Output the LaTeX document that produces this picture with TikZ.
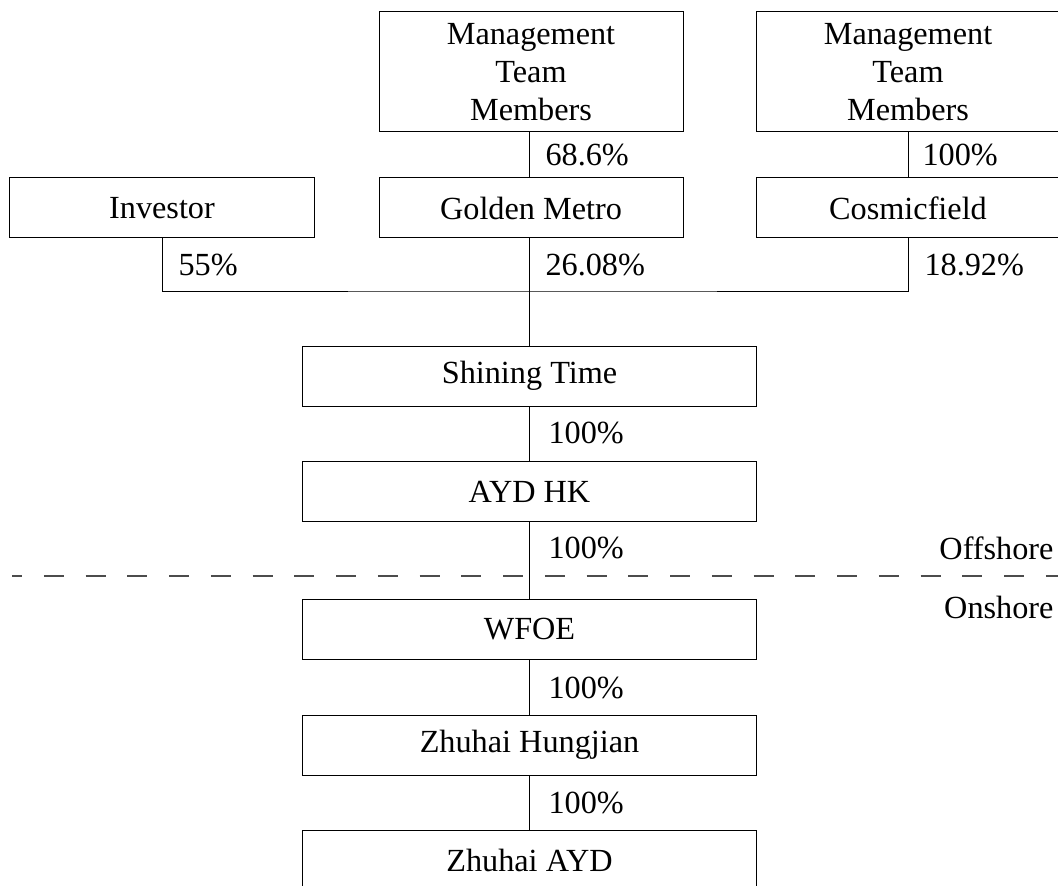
\documentclass[tikz,border=0pt]{standalone}
\usepackage{fontspec}
\setmainfont{Liberation Serif}
\begin{document}
\begin{tikzpicture}[x=0.4pt, y=-0.4pt,
  every node/.style={align=center, font=\fontsize{12.9}{15.2}\selectfont},
  orgbox/.style={draw, line width=0.4pt, minimum width=121.6pt, minimum height=24pt, inner sep=0pt},
  widebox/.style={orgbox, minimum width=181.6pt},
  pct/.style={anchor=west, inner sep=0pt}]
  \useasboundingbox (0,0) rectangle (1058,885);

  % owners
  \node[orgbox, minimum height=48pt] (mgmtA) at (531, 71.7) {Management\\Team\\Members};
  \node[orgbox, minimum height=48pt] (mgmtB) at (908, 71.7) {Management\\Team\\Members};
  \node[orgbox] (investor) at (162, 208) {Investor};
  \node[orgbox] (golden) at (531, 208) {Golden Metro};
  \node[orgbox] (cosmic) at (908, 208) {Cosmicfield};

  % group chain
  \node[widebox] (shining) at (529.5, 376) {Shining Time};
  \node[widebox] (aydhk) at (529.5, 491.5) {AYD HK};
  \node[widebox] (wfoe) at (529.5, 629) {WFOE};
  \node[widebox] (hungjian) at (529.5, 745) {Zhuhai Hungjian};
  \node[widebox] (zhayd) at (529.5, 860) {Zhuhai AYD};

  % offshore / onshore split
  \coordinate (splitL) at (12, 576);
  \coordinate (splitR) at (1058, 576);
  \draw[dashed, dash pattern=on 8pt off 8.7pt, dash phase=4pt, line width=0.8pt, black!70] (splitL) -- (splitR);
  \node[anchor=east, inner sep=0pt] (offshore) at (1054, 548) {Offshore};
  \node[anchor=east, inner sep=0pt] (onshore) at (1054, 607) {Onshore};

  % connectors
  \coordinate (bus) at (529.5, 291);
  \draw[line width=0.4pt] (mgmtA.south -| shining.north) -- (golden.north -| shining.north);
  \draw[line width=0.4pt] (mgmtB.south) -- (cosmic.north);
  \draw[line width=0.4pt] (investor.south) |- (bus) -| (cosmic.south);
  \draw[line width=0.4pt] (golden.south -| shining.north) -- (shining.north);
  \draw[line width=0.4pt] (shining.south) -- (aydhk.north);
  \draw[line width=0.4pt] (aydhk.south) -- (wfoe.north);
  \draw[line width=0.4pt] (wfoe.south) -- (hungjian.north);
  \draw[line width=0.4pt] (hungjian.south) -- (zhayd.north);

  % shares
  \node[pct] (pmgmtA) at (545, 155) {68.6\%};
  \node[pct] (pmgmtB) at (922, 155) {100\%};
  \node[pct] (pinv) at (178, 265) {55\%};
  \node[pct] (pgold) at (545, 265) {26.08\%};
  \node[pct] (pcosm) at (924, 265) {18.92\%};
  \node[pct] (pshin) at (548, 433) {100\%};
  \node[pct] (phk) at (548, 548) {100\%};
  \node[pct] (pwfoe) at (548, 688) {100\%};
  \node[pct] (phung) at (548, 803) {100\%};
\end{tikzpicture}
\end{document}
